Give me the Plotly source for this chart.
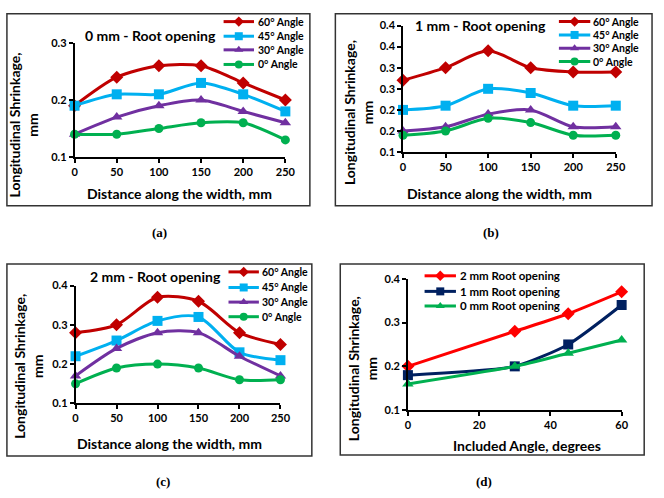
import plotly.graph_objects as go

# ---------------- data ----------------
distance = [0, 50, 100, 150, 200, 250]
angle_labels = ["60° Angle", "45° Angle", "30° Angle", "0° Angle"]

a_60 = [0.19, 0.24, 0.26, 0.26, 0.23, 0.20]
a_45 = [0.19, 0.21, 0.21, 0.23, 0.21, 0.18]
a_30 = [0.14, 0.17, 0.19, 0.20, 0.18, 0.16]
a_0 = [0.14, 0.14, 0.15, 0.16, 0.16, 0.13]

b_60 = [0.27, 0.30, 0.34, 0.30, 0.29, 0.29]
b_45 = [0.20, 0.21, 0.25, 0.24, 0.21, 0.21]
b_30 = [0.15, 0.16, 0.19, 0.20, 0.16, 0.16]
b_0 = [0.14, 0.15, 0.18, 0.17, 0.14, 0.14]

c_60 = [0.28, 0.30, 0.37, 0.36, 0.28, 0.25]
c_45 = [0.22, 0.26, 0.31, 0.32, 0.23, 0.21]
c_30 = [0.17, 0.24, 0.28, 0.28, 0.22, 0.17]
c_0 = [0.15, 0.19, 0.20, 0.19, 0.16, 0.16]

included_angle = [0, 30, 45, 60]
opening_labels = ["2 mm Root opening", "1 mm Root opening", "0 mm Root opening"]
d_2mm = [0.20, 0.28, 0.32, 0.37]
d_1mm = [0.18, 0.20, 0.25, 0.34]
d_0mm = [0.16, 0.20, 0.23, 0.26]

panel_titles = ["0 mm - Root opening", "1 mm - Root opening", "2 mm - Root opening"]
captions = ["(a)", "(b)", "(c)", "(d)"]
y_title = "Longitudinal Shrinkage,<br>mm"
x_title_width = "Distance along the width, mm"
x_title_angle = "Included Angle, degrees"

b_tickvals = [0.1, 0.15, 0.2, 0.25, 0.3, 0.35, 0.4]
b_ticktext = ["0.1", "0.2", "0.2", "0.3", "0.3", "0.4", "0.4"]

# ---------------- styles ----------------
W, H = 664, 498
FONT = "Lato, 'Open Sans', sans-serif"
angle_colors = ["#C00000", "#00B0F0", "#7030A0", "#00B050"]
angle_symbols = ["diamond", "square", "triangle-up", "circle"]
open_colors = ["#FF0000", "#002060", "#00B050"]
open_symbols = ["diamond", "square", "triangle-up"]


def px(x):
    return x / W


def py(y):
    return 1 - y / H


fig = go.Figure()

panels_abc = [
    ([a_60, a_45, a_30, a_0], "x", "y"),
    ([b_60, b_45, b_30, b_0], "x2", "y2"),
    ([c_60, c_45, c_30, c_0], "x3", "y3"),
]
for series, xa, ya in panels_abc:
    for vals, name, col, sym in zip(series, angle_labels, angle_colors, angle_symbols):
        fig.add_trace(go.Scatter(
            x=distance, y=vals, name=name, mode="lines+markers",
            line=dict(color=col, width=3, shape="spline", smoothing=0.8),
            marker=dict(symbol=sym, size=10 if sym != "circle" else 9, color=col),
            xaxis=xa, yaxis=ya, showlegend=False, cliponaxis=False))

for vals, name, col, sym in zip([d_2mm, d_1mm, d_0mm], opening_labels, open_colors, open_symbols):
    fig.add_trace(go.Scatter(
        x=included_angle, y=vals, name=name, mode="lines+markers",
        line=dict(color=col, width=3, shape="spline", smoothing=0.6),
        marker=dict(symbol=sym, size=10, color=col),
        xaxis="x4", yaxis="y4", showlegend=False, cliponaxis=False))

# ---------------- manual legends (overlay pixel axis) ----------------
legend_specs = [
    # (line x0, line x1, text x, row ys, labels, colors, symbols, font size)
    (225, 256, 258, [15, 30, 44, 59], angle_labels, angle_colors, angle_symbols, 10.5),
    (567, 599, 600, [15, 28.7, 42.3, 56], angle_labels, angle_colors, angle_symbols, 10.5),
    (230, 261, 262, [272, 288, 303, 318], angle_labels, angle_colors, angle_symbols, 10.5),
    (430, 462, 464, [276, 292, 307], opening_labels, open_colors, open_symbols, 11.5),
]
annotations = []
for x0, x1, tx, rows, labels, cols, syms, fs in legend_specs:
    for yy, lab, col, sym in zip(rows, labels, cols, syms):
        fig.add_trace(go.Scatter(x=[x0, x1], y=[yy, yy], mode="lines",
                                 line=dict(color=col, width=3), xaxis="x5", yaxis="y5",
                                 showlegend=False, hoverinfo="skip", cliponaxis=False))
        fig.add_trace(go.Scatter(x=[(x0 + x1) / 2], y=[yy], mode="markers",
                                 marker=dict(symbol=sym, size=8, color=col), xaxis="x5", yaxis="y5",
                                 showlegend=False, hoverinfo="skip", cliponaxis=False))
        annotations.append(dict(x=px(tx), y=py(yy), xref="paper", yref="paper", text=lab,
                                showarrow=False, xanchor="left", yanchor="middle",
                                font=dict(family=FONT, size=fs, color="black", weight="bold")))

# ---------------- axes ----------------
axis_common = dict(showline=True, linecolor="black", linewidth=1.5, ticks="outside",
                   ticklen=4, tickcolor="black", tickwidth=1.5, showgrid=False, zeroline=False,
                   tickfont=dict(family=FONT, size=11, color="black", weight="bold"))

domains = {
    "a": ([px(73), px(288)], [py(154), py(37)]),
    "b": ([px(408), px(625)], [py(149), py(19)]),
    "c": ([px(74), px(283)], [py(407), py(286)]),
    "d": ([px(413), px(631)], [py(414), py(279)]),
}

layout = dict(
    width=W, height=H, margin=dict(l=0, r=0, t=0, b=0),
    paper_bgcolor="white", plot_bgcolor="rgba(0,0,0,0)", showlegend=False,
    xaxis=dict(domain=domains["a"][0], range=[0, 250], tickvals=distance, anchor="y", **axis_common),
    yaxis=dict(domain=domains["a"][1], range=[0.1, 0.3], tickvals=[0.1, 0.2, 0.3], anchor="x", **axis_common),
    xaxis2=dict(domain=domains["b"][0], range=[0, 250], tickvals=distance, anchor="y2", **axis_common),
    yaxis2=dict(domain=domains["b"][1], range=[0.1, 0.4], tickvals=b_tickvals, ticktext=b_ticktext,
                anchor="x2", **axis_common),
    xaxis3=dict(domain=domains["c"][0], range=[0, 250], tickvals=distance, anchor="y3", **axis_common),
    yaxis3=dict(domain=domains["c"][1], range=[0.1, 0.4], tickvals=[0.1, 0.2, 0.3, 0.4], anchor="x3", **axis_common),
    xaxis4=dict(domain=domains["d"][0], range=[0, 60], tickvals=[0, 20, 40, 60], anchor="y4", **axis_common),
    yaxis4=dict(domain=domains["d"][1], range=[0.1, 0.4], tickvals=[0.1, 0.2, 0.3, 0.4], anchor="x4", **axis_common),
    xaxis5=dict(domain=[0, 1], range=[0, W], visible=False, fixedrange=True, anchor="y5"),
    yaxis5=dict(domain=[0, 1], range=[H, 0], visible=False, fixedrange=True, anchor="x5"),
)

# panel borders
borders = [(4, 7, 313, 204), (339, 7, 662, 204), (4, 264, 315, 461), (344, 264, 654, 460)]
shapes = [dict(type="rect", xref="paper", yref="paper", x0=px(x0), x1=px(x1), y0=py(y1), y1=py(y0),
               line=dict(color="#333333", width=1.5), layer="below") for x0, y0, x1, y1 in borders]

# panel titles
for (cx, cy), t in zip([(150, 29), (487, 19), (156, 277)], panel_titles):
    annotations.append(dict(x=px(cx), y=py(cy), xref="paper", yref="paper", text=t, showarrow=False,
                            xanchor="center", yanchor="middle",
                            font=dict(family=FONT, size=14, color="black", weight="bold")))

# x titles
for (cx, cy), t in zip([(180, 192), (506, 192), (170, 448), (534, 450)],
                       [x_title_width, x_title_width, x_title_width, x_title_angle]):
    annotations.append(dict(x=px(cx), y=py(cy), xref="paper", yref="paper", text=t, showarrow=False,
                            xanchor="center", yanchor="middle",
                            font=dict(family=FONT, size=14, color="black", weight="bold")))

# y titles
for cx, cy in [(21, 121), (362, 108), (26, 369), (366, 371)]:
    annotations.append(dict(x=px(cx), y=py(cy), xref="paper", yref="paper", text=y_title, showarrow=False,
                            xanchor="center", yanchor="middle", textangle=-90,
                            font=dict(family=FONT, size=14, color="black", weight="bold")))

# captions
for (cx, cy), t in zip([(160, 232), (498, 232), (163, 487), (491, 487)], captions):
    annotations.append(dict(x=px(cx), y=py(cy), xref="paper", yref="paper", text=t, showarrow=False,
                            xanchor="center", yanchor="middle",
                            font=dict(family="'Liberation Serif', serif", size=13, color="black", weight="bold")))

layout["shapes"] = shapes
layout["annotations"] = annotations
fig.update_layout(**layout)
fig.write_html("out.html")
